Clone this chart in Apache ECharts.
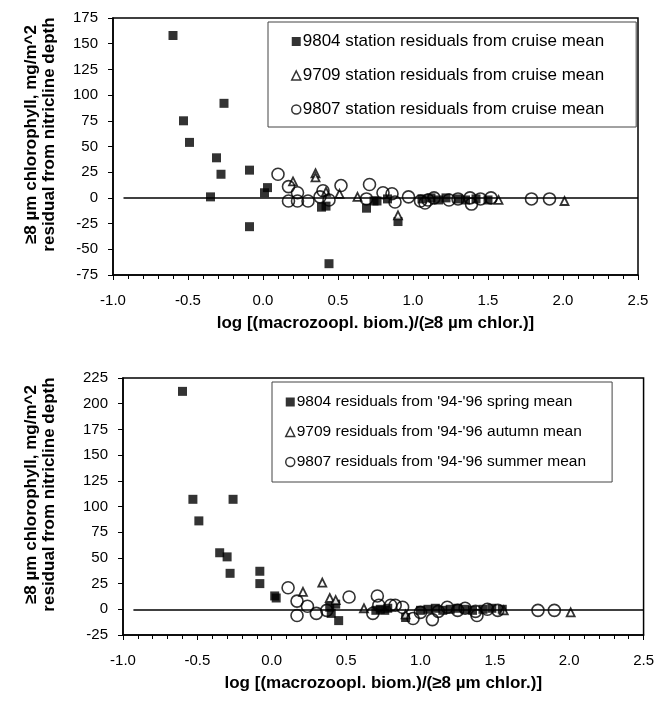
<!DOCTYPE html>
<html>
<head>
<meta charset="utf-8">
<script src="https://cdn.jsdelivr.net/npm/echarts@6/dist/echarts.min.js"></script>
<style>html,body{margin:0;padding:0;background:#fff;}#c{width:657px;height:704px;}</style>
</head>
<body>
<div id="c"></div>
<script>
// ---- Top panel: station residuals from cruise mean ----
const top9804 = [[-0.60,158],[-0.53,75],[-0.49,54],[-0.35,1],[-0.31,39],[-0.28,23],[-0.26,92],[-0.09,27],[-0.09,-28],[0.01,5],[0.03,10],[0.39,-9],[0.42,-8],[0.44,-64],[0.69,-10],[0.74,-3],[0.76,-3],[0.83,-1],[0.90,-23],[1.06,-1],[1.12,0],[1.17,-2],[1.22,0],[1.30,-1],[1.35,-2],[1.42,-1],[1.50,-2]];
const top9709 = [[0.20,16],[0.35,24],[0.35,20],[0.42,6],[0.51,4],[0.63,1],[0.90,-17],[1.57,-2],[2.01,-3]];
const top9807 = [[0.10,23],[0.17,11],[0.17,-3],[0.23,5],[0.23,-3],[0.30,-3],[0.38,1],[0.40,7],[0.44,-2],[0.52,12],[0.69,-1],[0.71,13],[0.80,5],[0.86,4],[0.88,-4],[0.97,1],[1.05,-3],[1.08,-5],[1.10,-2],[1.14,0],[1.24,-2],[1.30,-1],[1.38,0],[1.39,-6],[1.45,-1],[1.52,0],[1.79,-1],[1.91,-1]];
// ---- Bottom panel: residuals from '94-'96 seasonal means ----
const bot9804 = [[-0.60,212],[-0.53,107],[-0.49,86],[-0.35,55],[-0.30,51],[-0.28,35],[-0.26,107],[-0.08,37],[-0.08,25],[0.02,13],[0.03,11],[0.39,2],[0.40,-4],[0.43,5],[0.45,-11],[0.70,-1],[0.73,0],[0.76,-1],[0.78,1],[0.90,-8],[1.00,-1],[1.05,0],[1.10,1],[1.15,-1],[1.20,0],[1.25,1],[1.30,0],[1.35,-1],[1.42,0],[1.48,1],[1.55,0]];
const bot9709 = [[0.21,17],[0.34,26],[0.39,11],[0.43,9],[0.62,1],[0.90,-5],[1.56,-1],[2.01,-3]];
const bot9807 = [[0.11,21],[0.17,8],[0.17,-6],[0.24,3],[0.30,-4],[0.37,-1],[0.52,12],[0.68,-4],[0.71,13],[0.72,4],[0.80,4],[0.83,4],[0.88,2],[0.95,-9],[1.00,-3],[1.08,-10],[1.12,-2],[1.18,2],[1.25,-1],[1.30,1],[1.37,-2],[1.38,-6],[1.45,0],[1.52,-1],[1.79,-1],[1.90,-1]];

const topNames = ['9804 station residuals from cruise mean','9709 station residuals from cruise mean','9807 station residuals from cruise mean'];
const botNames = ["9804 residuals from '94-'96 spring mean","9709 residuals from '94-'96 autumn mean","9807 residuals from '94-'96 summer mean"];
const xTicks = {min:-1, max:2.5, interval:0.5};
const topY = {min:-75, max:175, interval:25};
const botY = {min:-25, max:225, interval:25};
const zeroLine = [-0.93, 2.5];

const FONT = 'Liberation Sans, Arial, sans-serif';
const yName = '≥8 µm chlorophyll, mg/m^2\nresidual from nitricline depth';
const xName = 'log [(macrozoopl. biom.)/(≥8 µm chlor.)]';

function xAxis(gi){
  return {type:'value', gridIndex:gi, min:xTicks.min, max:xTicks.max, interval:xTicks.interval,
    name:xName, nameLocation:'middle', nameGap:40,
    nameTextStyle:{fontFamily:FONT, fontWeight:'bold', fontSize:17, color:'#000'},
    axisLine:{onZero:false, lineStyle:{color:'#000', width:1.5}},
    axisTick:{show:true, length:5, lineStyle:{color:'#000'}},
    minorTick:{show:true, splitNumber:5, length:4, lineStyle:{color:'#000'}},
    splitLine:{show:false},
    axisLabel:{fontFamily:FONT, fontSize:15, color:'#000', margin:18, formatter:v=>v.toFixed(1)}};
}
function yAxis(gi, r, gap){
  return {type:'value', gridIndex:gi, min:r.min, max:r.max, interval:r.interval,
    name:yName, nameLocation:'middle', nameGap:gap, nameRotate:90,
    nameTextStyle:{fontFamily:FONT, fontWeight:'bold', fontSize:17, color:'#000', lineHeight:18, align:'center', padding:[0,0,0,24]},
    axisLine:{onZero:false, lineStyle:{color:'#000', width:1.5}},
    axisTick:{show:true, length:5, lineStyle:{color:'#000'}},
    splitLine:{show:false},
    axisLabel:{fontFamily:FONT, fontSize:15, color:'#000', margin:15}};
}
function sq(name, data, gi, withLine){
  const s = {name, type:'scatter', xAxisIndex:gi, yAxisIndex:gi, data, symbol:'rect', symbolSize:9,
    itemStyle:{color:'#000'}, z:3};
  if(withLine){
    s.markLine = {silent:true, symbol:'none', animation:false, label:{show:false},
      lineStyle:{color:'#000', width:1.5, type:'solid'},
      data:[[{coord:[zeroLine[0],0]},{coord:[zeroLine[1],0]}]]};
  }
  return s;
}
function tri(name, data, gi){
  return {name, type:'scatter', xAxisIndex:gi, yAxisIndex:gi, data, symbol:'triangle', symbolSize:8,
    itemStyle:{color:'#fff', borderColor:'#000', borderWidth:1.8}, z:4};
}
function circ(name, data, gi){
  return {name, type:'scatter', xAxisIndex:gi, yAxisIndex:gi, data, symbol:'circle', symbolSize:12,
    itemStyle:{color:'rgba(255,255,255,0)', borderColor:'#000', borderWidth:1.6}, z:5};
}
function legend(names, left, top, pad, gap, fs){
  return {orient:'vertical', left, top, padding:pad, itemGap:gap, itemWidth:9, itemHeight:9,
    backgroundColor:'#fff', borderColor:'#444', borderWidth:1,
    textStyle:{fontFamily:FONT, fontSize:fs, color:'#000', padding:[0,0,0,-3]},
    data:names.map((n,i)=>({name:n, icon:['rect','triangle','circle'][i],
      itemStyle: i===0 ? {color:'#000'} : {color:'#fff', borderColor:'#000', borderWidth:1.5}}))};
}

const chart = echarts.init(document.getElementById('c'), null, {renderer:'canvas'});
chart.setOption({
  animation:false,
  backgroundColor:'#fff',
  grid:[
    {left:113, top:18, width:525, height:257, show:true, borderColor:'#000', borderWidth:1.5, backgroundColor:'transparent'},
    {left:123, top:378, width:521, height:257, show:true, borderColor:'#000', borderWidth:1.5, backgroundColor:'transparent'}
  ],
  xAxis:[xAxis(0), xAxis(1)],
  yAxis:[yAxis(0, topY, 55), yAxis(1, botY, 65)],
  legend:[legend(topNames, 268, 22, [11,32,9,23], 17, 17), legend(botNames, 272, 382, [12,26,12,13], 14, 15.5)],
  series:[
    sq(topNames[0], top9804, 0, true), tri(topNames[1], top9709, 0), circ(topNames[2], top9807, 0),
    sq(botNames[0], bot9804, 1, true), tri(botNames[1], bot9709, 1), circ(botNames[2], bot9807, 1)
  ]
});
</script>
</body>
</html>
